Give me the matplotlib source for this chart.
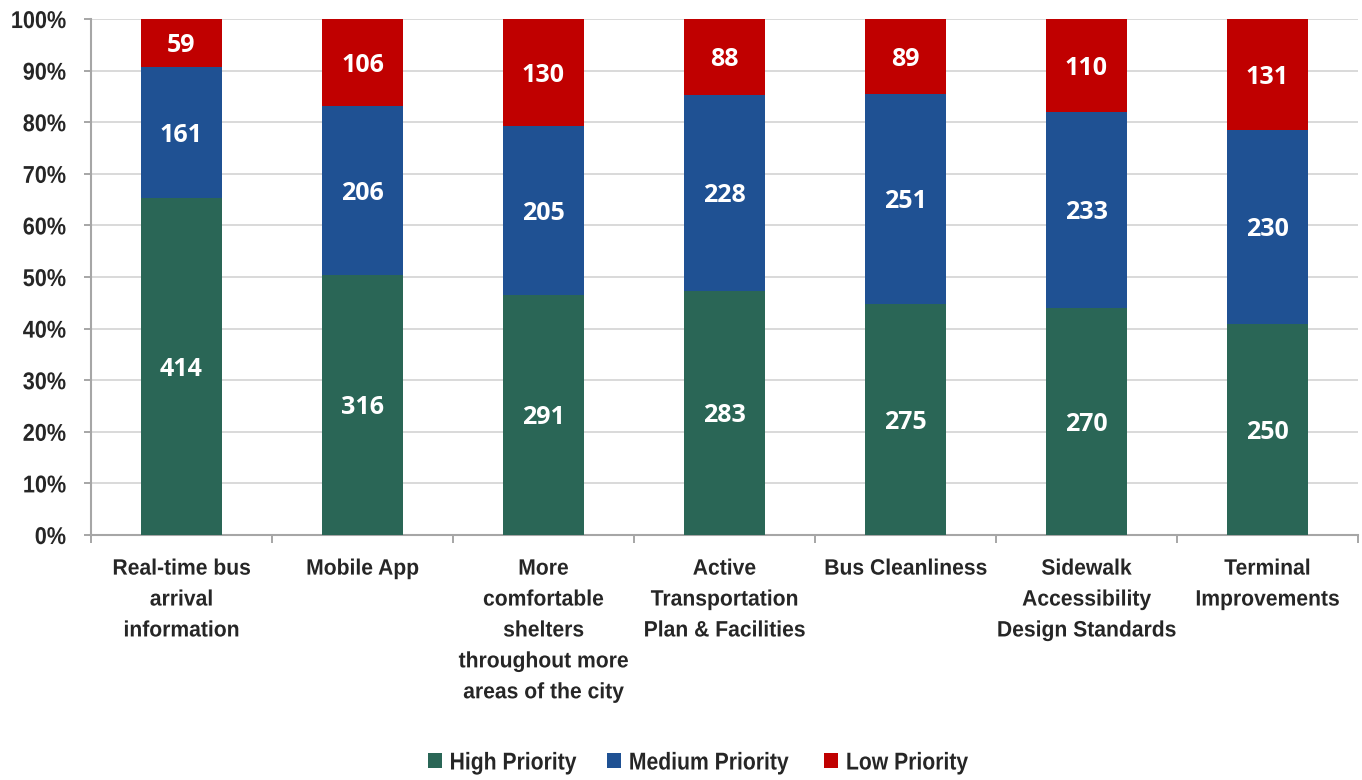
import matplotlib
matplotlib.use("Agg")
import matplotlib.pyplot as plt
import numpy as np
from matplotlib.ticker import FixedLocator, PercentFormatter
from matplotlib.patheffects import AbstractPathEffect
from matplotlib.transforms import Affine2D

categories = [
    "Real-time bus\narrival\ninformation",
    "Mobile App",
    "More\ncomfortable\nshelters\nthroughout more\nareas of the city",
    "Active\nTransportation\nPlan & Facilities",
    "Bus Cleanliness",
    "Sidewalk\nAccessibility\nDesign Standards",
    "Terminal\nImprovements",
]
high = [414, 316, 291, 283, 275, 270, 250]
medium = [161, 206, 205, 228, 251, 233, 230]
low = [59, 106, 130, 88, 89, 110, 131]
series_names = ["High Priority", "Medium Priority", "Low Priority"]
colors = ["#2a6656", "#1f5193", "#c00000"]

sans = ["Liberation Sans", "DejaVu Sans"]
label_font = ["Open Sans", "DejaVu Sans"]
text_color = "#262626"


class Condense(AbstractPathEffect):
    """Draw text glyphs horizontally compressed (narrow-font look)."""

    def __init__(self, sx=0.9, anchor="center"):
        super().__init__()
        self.sx = sx
        self.anchor = anchor

    def draw_path(self, renderer, gc, tpath, affine, rgbFace=None):
        ext = tpath.get_extents()
        if self.anchor == "left":
            cx = ext.x0
        elif self.anchor == "right":
            cx = ext.x1
        else:
            cx = (ext.x0 + ext.x1) / 2
        t = Affine2D().translate(-cx, 0).scale(self.sx, 1).translate(cx, 0) + affine
        renderer.draw_path(gc, tpath, t, rgbFace)


fig = plt.figure(figsize=(13.62, 7.8), dpi=100)
ax = fig.add_axes([0.0668, 0.3141, 0.9302, 0.6615])

data = np.array([high, medium, low], dtype=float)
totals = data.sum(axis=0)
pct = data / totals * 100
x = np.arange(len(categories))
bottom = np.zeros(len(categories))
for i in range(3):
    bars = ax.bar(x, pct[i], 0.45, bottom=bottom, color=colors[i],
                  label=series_names[i], zorder=3)
    for j, b in enumerate(bars):
        ax.annotate(f"{int(data[i][j])}",
                    (b.get_x() + b.get_width() / 2, bottom[j] + pct[i][j] / 2),
                    xytext=(0, -2), textcoords="offset points",
                    ha="center", va="center", color="white", fontsize=18,
                    fontweight="bold", family=label_font, zorder=4)
    bottom += pct[i]

ax.set_xlim(-0.5, len(categories) - 0.5)
ax.set_ylim(0, 100)
ax.set_yticks(np.arange(0, 101, 10))
ax.yaxis.set_major_formatter(PercentFormatter(decimals=0))
ax.grid(axis="y", color="#d9d9d9", linewidth=1.4, zorder=0)
ax.set_axisbelow(True)

ax.set_xticks(x)
ax.set_xticklabels(categories, family=sans, fontsize=16, fontweight="bold",
                   color=text_color, linespacing=1.62)
for lbl in ax.get_xticklabels():
    lbl.set_path_effects([Condense(0.95, "center")])
ax.tick_params(axis="x", length=0, pad=17)
ax.xaxis.set_minor_locator(FixedLocator(np.arange(-0.5, len(categories), 1.0)))
ax.tick_params(axis="x", which="minor", length=6, width=1.4, color="#a6a6a6",
               direction="out")
ax.tick_params(axis="y", length=5, width=1.4, color="#a6a6a6", pad=13,
               labelsize=17.5, labelcolor=text_color)
for lbl in ax.get_yticklabels():
    lbl.set_family(sans)
    lbl.set_fontweight("bold")
    lbl.set_path_effects([Condense(0.89, "right")])

for s in ["top", "right"]:
    ax.spines[s].set_visible(False)
for s in ["left", "bottom"]:
    ax.spines[s].set_color("#a6a6a6")
    ax.spines[s].set_linewidth(1.5)

leg = fig.legend(loc="center left", bbox_to_anchor=(428 / 1362, 0.0218), ncol=3,
                 frameon=False, handlelength=0.58, handleheight=0.58,
                 handletextpad=0.3, columnspacing=0.5, borderpad=0,
                 borderaxespad=0,
                 prop={"family": sans, "size": 17.5, "weight": "bold"})
for t in leg.get_texts():
    t.set_color(text_color)
    t.set_path_effects([Condense(0.87, "left")])

fig.savefig("out.png", dpi=100)
